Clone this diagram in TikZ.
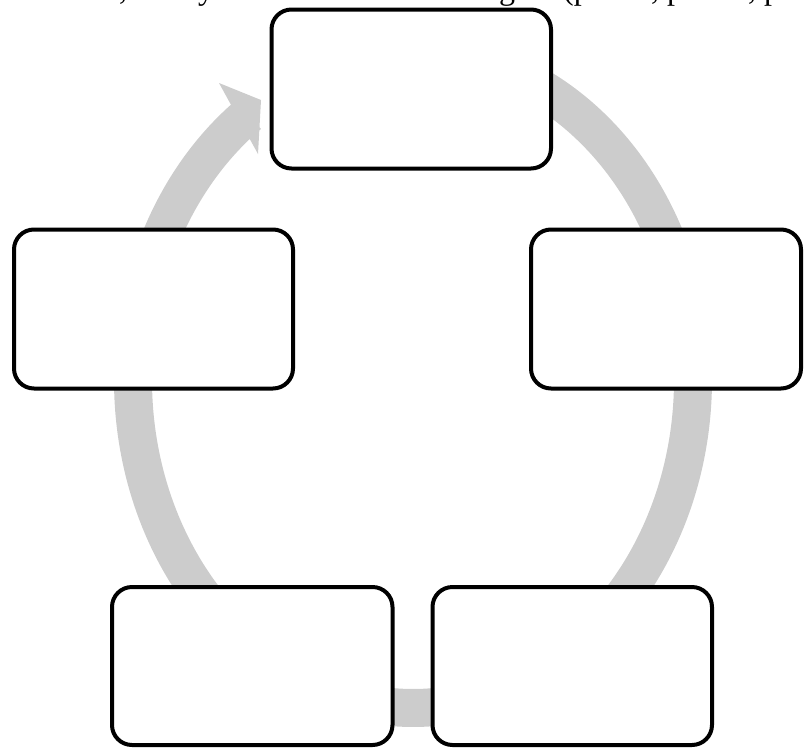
\documentclass[tikz,border=0pt]{standalone}
\usepackage{fontspec}
\setmainfont{Liberation Serif}
\definecolor{ringgray}{HTML}{CCCCCC}
\tikzset{
  cyclebox/.style={draw=black, line width=4pt, fill=white, rounded corners=20pt, inner sep=0pt},
  cutfrag/.style={anchor=base west, inner sep=0pt, font=\fontsize{32}{36}\selectfont},
  ringstroke/.style={draw=ringgray, line width=38pt, line cap=butt},
}
\begin{document}
\begin{tikzpicture}[x=1pt,y=-1pt]
\useasboundingbox (0,0) rectangle (804,748);
\clip (0,0) rectangle (804,748);
% cut-off text line at the top
\node[cutfrag] (f1) at (119,-1) {,};
\node[cutfrag] (f2) at (198,-1) {y};
\node[cutfrag] (f3) at (499,-1) {g};
\node[cutfrag] (f4) at (563,-1) {(p};
\node[cutfrag] (f5) at (651,-1) {, p};
\node[cutfrag] (f6) at (748,-1) {, p};
% gray cycle arrow
\draw[ringstroke] plot[domain=126:450, samples=160, smooth] ({413+280*cos(\x)}, {380-328*sin(\x)});
\fill[ringgray] (219,83) -- (261,100) -- (258,154) -- cycle;
% boxes
\node[cyclebox, minimum width=279.5pt, minimum height=159pt] (top) at (411.25,89) {};
\node[cyclebox, minimum width=279pt, minimum height=159pt] (left) at (153.5,309) {};
\node[cyclebox, minimum width=270pt, minimum height=159pt] (right) at (666,309) {};
\node[cyclebox, minimum width=280.5pt, minimum height=158pt] (bleft) at (252.25,666) {};
\node[cyclebox, minimum width=279.5pt, minimum height=158pt] (bright) at (572.25,666) {};
\end{tikzpicture}
\end{document}
